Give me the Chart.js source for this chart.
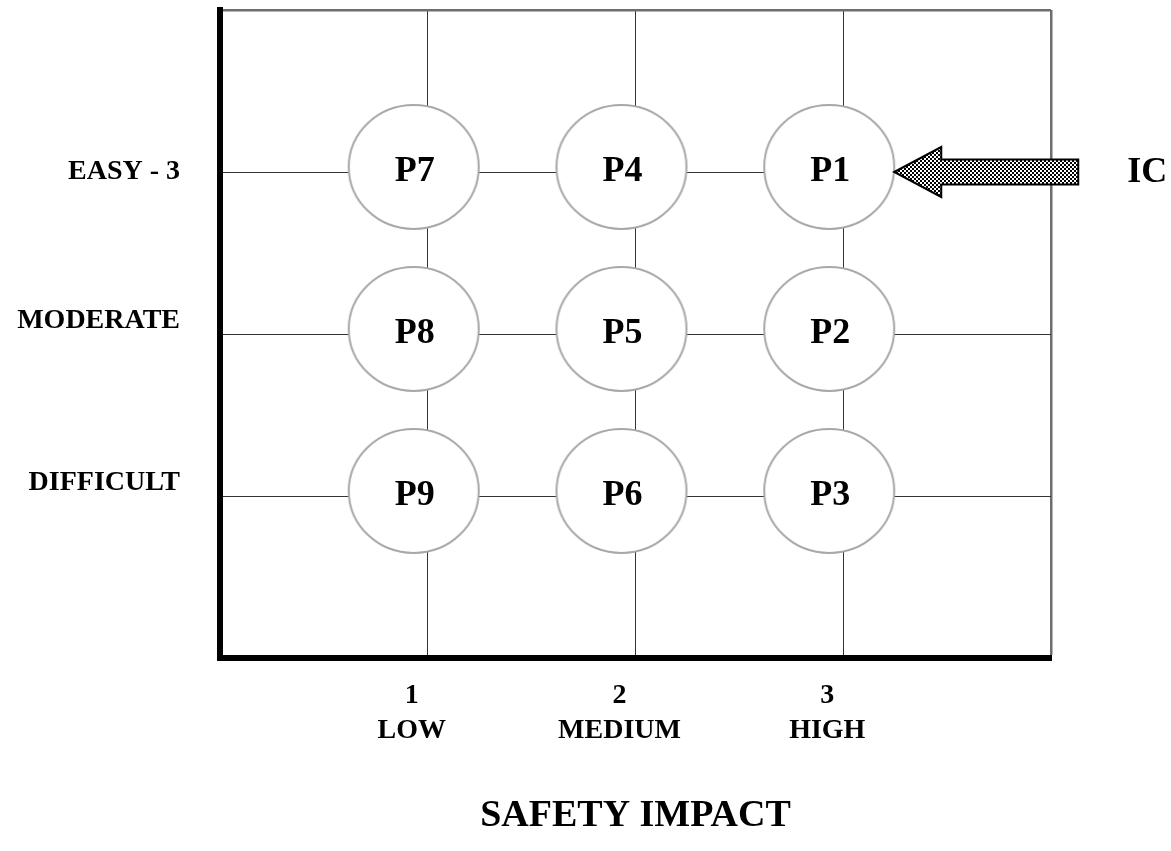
<!DOCTYPE html>
<html>
<head>
<meta charset="utf-8">
<script src="https://cdn.jsdelivr.net/npm/chart.js@4.4.1/dist/chart.umd.min.js"></script>
<style>
  body { margin: 0; background: #fff; }
  #wrap { width: 1171px; height: 851px; }
</style>
</head>
<body>
<div id="wrap"><canvas id="grid"></canvas></div>
<script>
// Data
const projectNames = ['P7', 'P4', 'P1', 'P8', 'P5', 'P2', 'P9', 'P6', 'P3'];
const safetyImpact = [1, 2, 3, 1, 2, 3, 1, 2, 3];
const easeScore = [3, 3, 3, 2, 2, 2, 1, 1, 1];
const xTickLabels = { 1: ['1', 'LOW'], 2: ['2', 'MEDIUM'], 3: ['3', 'HIGH'] };
const yTickLabels = { 3: 'EASY - 3', 2: ['MODERATE', ''], 1: ['DIFFICULT', ''] };
const xTitle = 'SAFETY IMPACT';
const arrowLabel = 'IC';
const arrowTarget = 'P1';

const serif = "'Liberation Serif', 'Times New Roman', serif";

// ellipse marker (slightly offset up/left like the original drawing)
function makeBubble() {
    const rx = 65, ry = 62, dx = -14, dy = -5;
    const c = document.createElement('canvas');
    c.width = 2 * (rx - dx + 3);
    c.height = 2 * (ry - dy + 3);
    const g = c.getContext('2d');
    g.beginPath();
    g.ellipse(c.width / 2 + dx, c.height / 2 + dy, rx, ry, 0, 0, Math.PI * 2);
    g.fillStyle = '#fff';
    g.fill();
    g.lineWidth = 2;
    g.strokeStyle = '#a8a8a8';
    g.stroke();
    return c;
}

function makeChecker() {
    const c = document.createElement('canvas');
    c.width = 4; c.height = 4;
    const g = c.getContext('2d');
    g.fillStyle = '#fff';
    g.fillRect(0, 0, 4, 4);
    g.fillStyle = '#000';
    g.fillRect(0, 0, 2, 2);
    g.fillRect(2, 2, 2, 2);
    return c;
}

const labelPlugin = {
    id: 'bubbleLabels',
    afterDatasetsDraw(chart) {
        const ctx = chart.ctx;
        const meta = chart.getDatasetMeta(0);
        ctx.save();
        ctx.font = 'bold 36px ' + serif;
        ctx.fillStyle = '#000';
        ctx.textAlign = 'center';
        ctx.textBaseline = 'middle';
        meta.data.forEach((pt, i) => {
            ctx.fillText(projectNames[i], pt.x - 13, pt.y);
        });

        // arrow pointing at the target bubble
        const idx = projectNames.indexOf(arrowTarget);
        const p = meta.data[idx];
        const tip = p.x + 51, y = p.y;
        const headBack = tip + 47, tail = tip + 184;
        ctx.beginPath();
        ctx.moveTo(tip, y);
        ctx.lineTo(headBack, y - 25);
        ctx.lineTo(headBack, y - 12.5);
        ctx.lineTo(tail, y - 12.5);
        ctx.lineTo(tail, y + 12.5);
        ctx.lineTo(headBack, y + 12.5);
        ctx.lineTo(headBack, y + 25);
        ctx.closePath();
        ctx.fillStyle = ctx.createPattern(makeChecker(), 'repeat');
        ctx.fill();
        ctx.lineWidth = 2;
        ctx.strokeStyle = '#000';
        ctx.stroke();

        ctx.fillStyle = '#000';
        ctx.font = 'bold 36px ' + serif;
        ctx.fillText(arrowLabel, tail + 69, y + 1);
        ctx.restore();
    }
};

const gridColor = c => (c.tick && c.tick.value === 4) ? '#6e6e6e' : (c.tick && c.tick.value === 0 ? 'rgba(0,0,0,0)' : '#333');
const gridWidth = c => (c.tick && c.tick.value === 4) ? 2.5 : 1;

new Chart(document.getElementById('grid'), {
    type: 'scatter',
    data: {
        datasets: [{
            label: 'Projects',
            data: safetyImpact.map((x, i) => ({ x: x, y: easeScore[i] })),
            pointStyle: makeBubble(),
            pointRadius: 1,
            pointHoverRadius: 1,
            clip: false
        }]
    },
    options: {
        responsive: true,
        maintainAspectRatio: false,
        animation: false,
        events: [],
        layout: { autoPadding: false, padding: { top: 10, right: 120, bottom: 0, left: 0 } },
        plugins: {
            legend: { display: false },
            tooltip: { enabled: false }
        },
        scales: {
            x: {
                min: 0, max: 4,
                ticks: {
                    stepSize: 1,
                    padding: 20,
                    labelOffset: -16,
                    color: '#000',
                    font: { family: serif, size: 28, weight: 'bold', lineHeight: 1.25 },
                    callback: v => xTickLabels[v] || ''
                },
                grid: { color: gridColor, lineWidth: gridWidth, drawTicks: false },
                border: { color: '#000', width: 6 },
                title: {
                    display: true,
                    text: xTitle,
                    color: '#000',
                    font: { family: serif, size: 38, weight: 'bold' },
                    padding: { top: 0, bottom: 12 }
                },
                afterFit: s => { s.height = 193; s.paddingLeft = 0; s.paddingRight = 0; }
            },
            y: {
                min: 0, max: 4,
                ticks: {
                    stepSize: 1,
                    padding: 40,
                    color: '#000',
                    font: { family: serif, size: 28, weight: 'bold', lineHeight: 0.95 },
                    callback: v => yTickLabels[v] || ''
                },
                grid: { color: gridColor, lineWidth: gridWidth, drawTicks: false },
                border: { color: '#000', width: 6 },
                afterFit: s => { s.width = 220; s.paddingTop = 0; s.paddingBottom = 0; }
            }
        }
    },
    plugins: [labelPlugin]
});
</script>
</body>
</html>
